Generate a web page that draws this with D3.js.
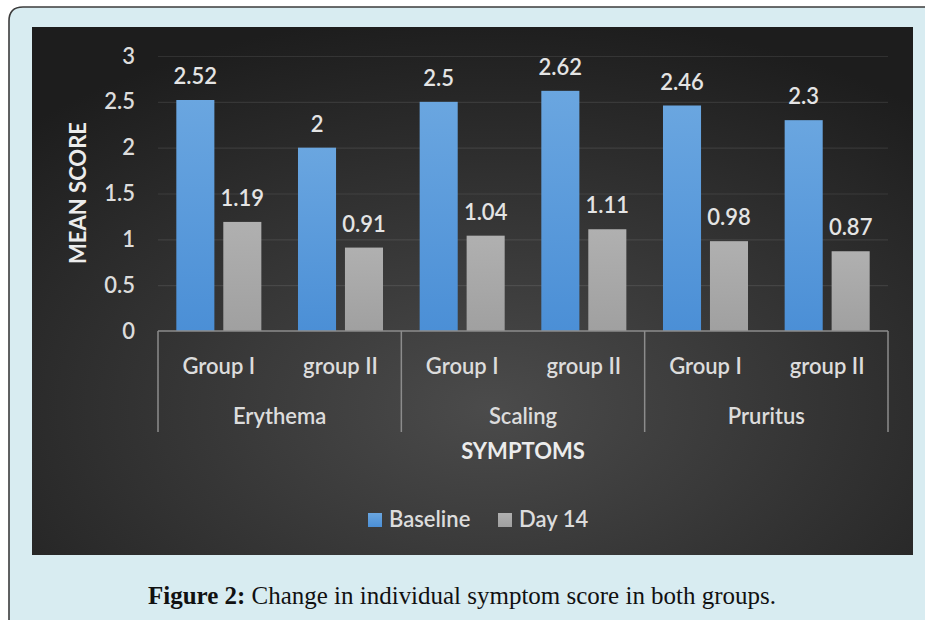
<!DOCTYPE html>
<html>
<head>
<meta charset="utf-8">
<script src="https://cdn.jsdelivr.net/npm/d3@7"></script>
<style>
  html, body { margin: 0; padding: 0; background: #fff; }
  svg { display: block; }
</style>
</head>
<body>
<div id="chart"></div>
<script>
// data
var symptoms = ["Erythema", "Scaling", "Pruritus"];
var groups = ["Group I", "group II"];
var seriesNames = ["Baseline", "Day 14"];
var baseline = [2.52, 2, 2.5, 2.62, 2.46, 2.3];
var day14 = [1.19, 0.91, 1.04, 1.11, 0.98, 0.87];
var yTicks = [0, 0.5, 1, 1.5, 2, 2.5, 3];

var W = 925, H = 620;
var svg = d3.select("#chart").append("svg")
    .attr("width", W)
    .attr("height", H);

var defs = svg.append("defs");

var bgGrad = defs.append("radialGradient")
    .attr("id", "bg-grad")
    .attr("cx", "52%").attr("cy", "72%").attr("r", "75%");
bgGrad.append("stop").attr("offset", "0%").attr("stop-color", "#4b4b4b");
bgGrad.append("stop").attr("offset", "100%").attr("stop-color", "#1d1d1d");

var blueGrad = defs.append("linearGradient")
    .attr("id", "blue-grad")
    .attr("x1", "0%").attr("y1", "0%").attr("x2", "0%").attr("y2", "100%");
blueGrad.append("stop").attr("offset", "0%").attr("stop-color", "#6aa6e0");
blueGrad.append("stop").attr("offset", "100%").attr("stop-color", "#4b8fd6");

var grayGrad = defs.append("linearGradient")
    .attr("id", "gray-grad")
    .attr("x1", "0%").attr("y1", "0%").attr("x2", "0%").attr("y2", "100%");
grayGrad.append("stop").attr("offset", "0%").attr("stop-color", "#b0b0b0");
grayGrad.append("stop").attr("offset", "100%").attr("stop-color", "#a0a0a0");

// outer light-blue frame with rounded top-left corner
var r = 14;
svg.append("path")
    .attr("d", "M9," + (H + 5) + " L9," + (7 + r) + " Q9,7 " + (9 + r) + ",7 L" + (W + 5) + ",7 L" + (W + 5) + "," + (H + 5) + " Z")
    .attr("fill", "#d8ecf1")
    .attr("stroke", "#3c3c3c")
    .attr("stroke-width", 1.6);

// dark chart panel
svg.append("rect")
    .attr("x", 32).attr("y", 27)
    .attr("width", 881).attr("height", 528)
    .attr("fill", "url(#bg-grad)");

var font = "Lato, 'Open Sans', sans-serif";
var txtColor = "#dcdcdc";

var x0 = d3.scaleBand().domain(symptoms).range([158, 888]).padding(0);
var x1 = d3.scaleBand().domain(groups).range([0, x0.bandwidth()]).padding(0);
var x2 = d3.scaleBand().domain(seriesNames).range([0, x1.bandwidth()])
    .paddingInner(0.19).paddingOuter(0.39);
var y = d3.scaleLinear().domain([0, 3]).range([331, 56]);

var color = { "Baseline": "url(#blue-grad)", "Day 14": "url(#gray-grad)" };

// gridlines
var yAxis = d3.axisLeft(y).tickValues(yTicks).tickSize(-(888 - 158)).tickFormat(d3.format("~g"));
var gy = svg.append("g")
    .attr("transform", "translate(158,0)")
    .call(yAxis);
gy.select(".domain").remove();
gy.selectAll(".tick line")
    .attr("stroke", "#ffffff")
    .attr("stroke-opacity", function(d) { return d === 0 ? 0 : 0.09; })
    .attr("stroke-width", 1.2);
gy.selectAll(".tick text")
    .attr("x", -23)
    .attr("fill", txtColor)
    .style("font-family", font)
    .style("font-size", "22px")
    .style("font-weight", "600");

// rows of data
var rows = [];
symptoms.forEach(function(s, i) {
  groups.forEach(function(g, j) {
    var k = i * 2 + j;
    rows.push({ symptom: s, group: g, series: "Baseline", value: baseline[k] });
    rows.push({ symptom: s, group: g, series: "Day 14", value: day14[k] });
  });
});

function barX(d) { return x0(d.symptom) + x1(d.group) + x2(d.series); }

svg.append("g").selectAll("rect")
    .data(rows)
    .enter().append("rect")
    .attr("x", barX)
    .attr("y", function(d) { return y(d.value); })
    .attr("width", x2.bandwidth())
    .attr("height", function(d) { return y(0) - y(d.value); })
    .attr("fill", function(d) { return color[d.series]; });

svg.append("g").selectAll("text")
    .data(rows)
    .enter().append("text")
    .attr("x", function(d) { return barX(d) + x2.bandwidth() / 2; })
    .attr("y", function(d) { return y(d.value) - 16; })
    .attr("text-anchor", "middle")
    .attr("fill", "#e4e4e4")
    .style("font-family", font)
    .style("font-size", "22px")
    .style("font-weight", "600")
    .text(function(d) { return String(d.value); });

// category axis line + separators
svg.append("line")
    .attr("x1", 158).attr("x2", 888)
    .attr("y1", y(0)).attr("y2", y(0))
    .attr("stroke", "#8c8c8c").attr("stroke-width", 1.5);

var seps = symptoms.map(function(s) { return x0(s); }).concat([x0.range()[1]]);
svg.append("g").selectAll("line")
    .data(seps)
    .enter().append("line")
    .attr("x1", function(d) { return d; }).attr("x2", function(d) { return d; })
    .attr("y1", y(0)).attr("y2", 432)
    .attr("stroke", "#8c8c8c").attr("stroke-width", 1.5);

// group labels
var glabels = [];
symptoms.forEach(function(s) {
  groups.forEach(function(g) { glabels.push({ symptom: s, group: g }); });
});
svg.append("g").selectAll("text")
    .data(glabels)
    .enter().append("text")
    .attr("x", function(d) { return x0(d.symptom) + x1(d.group) + x1.bandwidth() / 2; })
    .attr("y", 374)
    .attr("text-anchor", "middle")
    .attr("fill", txtColor)
    .style("font-family", font)
    .style("font-size", "22px")
    .style("font-weight", "600")
    .text(function(d) { return d.group; });

svg.append("g").selectAll("text")
    .data(symptoms)
    .enter().append("text")
    .attr("x", function(d) { return x0(d) + x0.bandwidth() / 2; })
    .attr("y", 424)
    .attr("text-anchor", "middle")
    .attr("fill", txtColor)
    .style("font-family", font)
    .style("font-size", "22px")
    .style("font-weight", "600")
    .text(function(d) { return d; });

// axis titles
svg.append("text")
    .attr("x", (158 + 888) / 2)
    .attr("y", 459)
    .attr("text-anchor", "middle")
    .attr("fill", "#ececec")
    .style("font-family", font)
    .style("font-size", "22px")
    .style("font-weight", "bold")
    .text("SYMPTOMS");

svg.append("text")
    .attr("transform", "translate(86,193) rotate(-90)")
    .attr("text-anchor", "middle")
    .attr("fill", "#ececec")
    .style("font-family", font)
    .style("font-size", "22px")
    .style("font-weight", "bold")
    .text("MEAN SCORE");

// legend
var legendX = [368, 498];
var lg = svg.append("g").selectAll("g")
    .data(seriesNames)
    .enter().append("g")
    .attr("transform", function(d, i) { return "translate(" + legendX[i] + ",513)"; });
lg.append("rect")
    .attr("width", 14).attr("height", 14)
    .attr("fill", function(d) { return color[d]; });
lg.append("text")
    .attr("x", 21).attr("y", 14)
    .attr("fill", txtColor)
    .style("font-family", font)
    .style("font-size", "22px")
    .style("font-weight", "600")
    .text(function(d) { return d; });

// caption
var cap = svg.append("text")
    .attr("x", 148).attr("y", 604)
    .attr("fill", "#111")
    .attr("textLength", 628)
    .attr("lengthAdjust", "spacingAndGlyphs")
    .style("font-family", "'Liberation Serif', 'DejaVu Serif', serif")
    .style("font-size", "25px");
cap.append("tspan").style("font-weight", "bold").text("Figure 2:");
cap.append("tspan").text(" Change in individual symptom score in both groups.");
</script>
</body>
</html>
